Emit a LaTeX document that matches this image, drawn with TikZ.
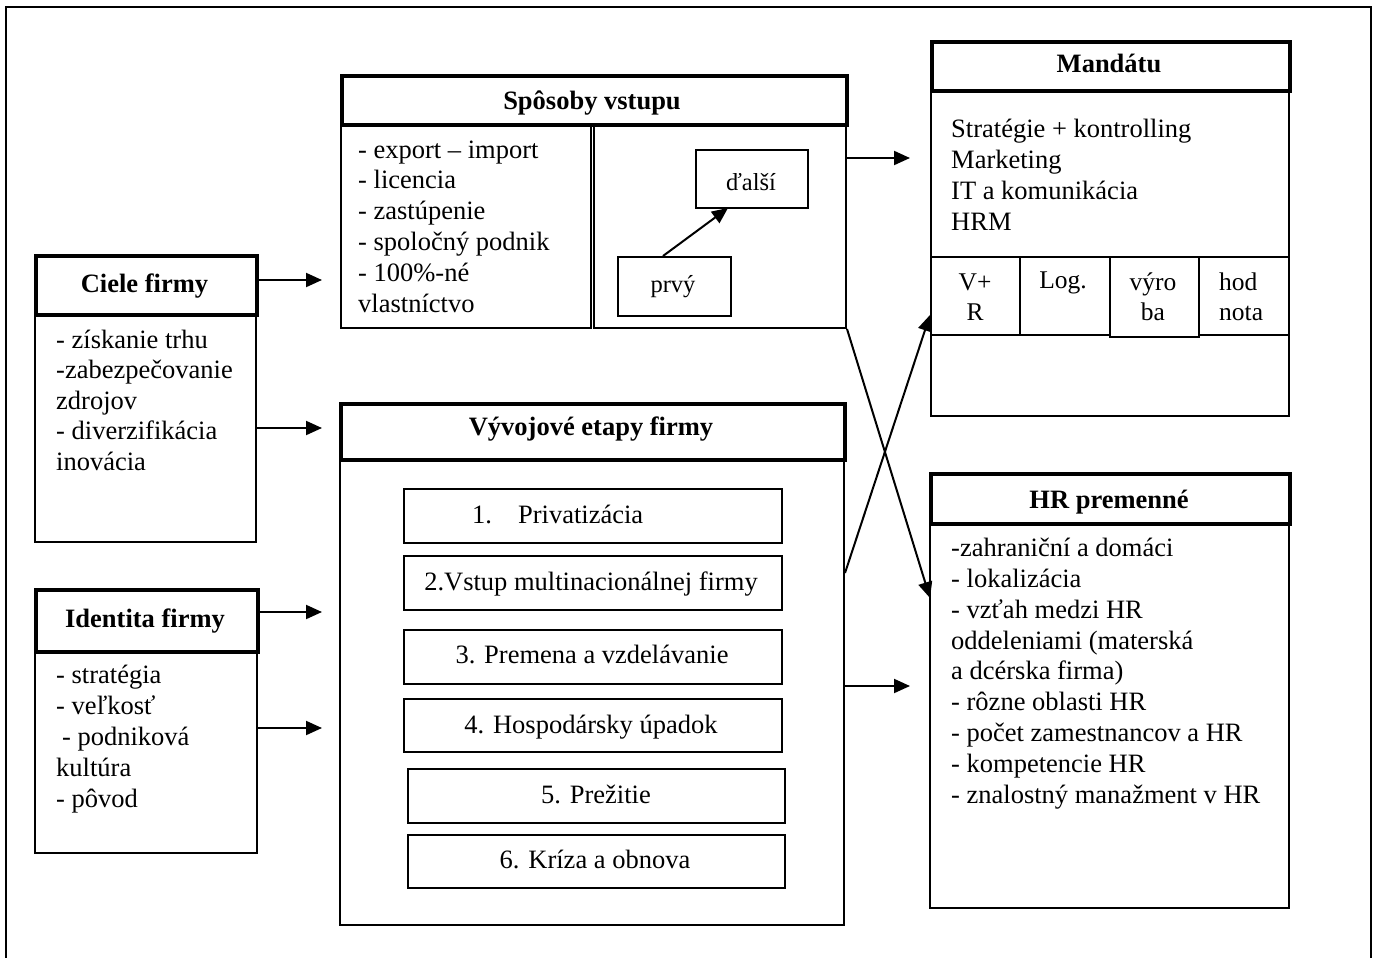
\documentclass[tikz,border=0pt]{standalone}
\usepackage{fontspec}
\setmainfont{Liberation Serif}
\usetikzlibrary{arrows.meta}
\begin{document}
\begin{tikzpicture}[x=1pt,y=-1pt,
  every node/.style={font=\fontsize{26.5pt}{30.8pt}\selectfont},
  rect/.style={draw, line width=2pt, inner sep=0pt, anchor=north west},
  trect/.style={draw, line width=3.8pt, inner sep=0pt, anchor=north west},
  txt/.style={anchor=base west, align=left, inner sep=0pt},
  ttl/.style={anchor=base, inner sep=0pt, font=\fontsize{26.5pt}{30.8pt}\selectfont\bfseries},
  ctxt/.style={anchor=base, align=center, inner sep=0pt},
  cell/.style={anchor=base, align=center, inner sep=0pt, font=\fontsize{25.5pt}{30pt}\selectfont},
  arr/.style={line width=2pt, -{Triangle[length=16pt,width=14pt]}}
]
\useasboundingbox (0,0) rectangle (1376,958);
% outer frame
\coordinate (fbl) at (6,958);
\coordinate (ftl) at (6,7);
\coordinate (ftr) at (1371,7);
\coordinate (fbr) at (1371,958);
\draw[line width=2.6pt] (fbl) -- (ftl) -- (ftr) -- (fbr);

% ---------- Spôsoby vstupu ----------
\node[rect, minimum width=250pt, minimum height=204pt] (spL) at (340,123) {};
\node[rect, minimum width=252pt, minimum height=204pt] (spR) at (593,123) {};
\node[trect, minimum width=505pt, minimum height=49pt] (spT) at (340,74) {};
\node[ttl] (spTt) at (592,110) {Spôsoby vstupu};
% multi-line nodes: base = baseline of the last line
\node[txt] (spLt) at (358,312) {- export – import\\- licencia\\- zastúpenie\\- spoločný podnik\\- 100\%-né\\vlastníctvo};
\node[rect, minimum width=112pt, minimum height=58pt] (dal) at (695,149) {};
\node[rect, minimum width=113pt, minimum height=59pt] (prv) at (617,256) {};
\node[cell, font=\fontsize{24.5pt}{29pt}\selectfont] (dalt) at (751,190) {ďalší};
\node[cell, font=\fontsize{24.5pt}{29pt}\selectfont] (prvt) at (673,292) {prvý};
\coordinate (prvTop) at (663,256);
\coordinate (dalBot) at (728,208);
\draw[arr] (prv.north -| prvTop) -- (dalBot);

% ---------- Mandátu ----------
\node[rect, minimum width=358pt, minimum height=326pt] (mB) at (930,89) {};
\node[rect, minimum width=89pt, minimum height=78pt] (mc1) at (930,256) {};
\node[rect, minimum width=90pt, minimum height=78pt] (mc2) at (1019,256) {};
\node[rect, minimum width=89pt, minimum height=80pt] (mc3) at (1109,256) {};
\node[rect, minimum width=90pt, minimum height=78pt] (mc4) at (1198,256) {};
\node[trect, minimum width=358pt, minimum height=49pt] (mT) at (930,40) {};
\node[ttl] (mTt) at (1109,73) {Mandátu};
\node[txt] (mBt) at (951,230) {Stratégie + kontrolling\\Marketing\\IT a komunikácia\\HRM};
\node[cell] (mc1t) at (975,320) {V+\\R};
\node[cell] (mc2t) at (1063,288) {Log.};
\node[cell] (mc3t) at (1153,320) {výro\\ba};
\node[cell, anchor=base west, align=left] (mc4t) at (1219,320) {hod\\nota};

% ---------- Ciele firmy ----------
\node[rect, minimum width=221pt, minimum height=228pt] (cB) at (34,313) {};
\node[trect, minimum width=221pt, minimum height=59pt] (cT) at (34,254) {};
\node[ttl] (cTt) at (144.5,292) {Ciele firmy};
\node[txt, font=\fontsize{26.5pt}{30.5pt}\selectfont] (cBt) at (56,470) {- získanie trhu\\-zabezpečovanie\\zdrojov\\- diverzifikácia\\inovácia};

% ---------- Identita firmy ----------
\node[rect, minimum width=222pt, minimum height=202pt] (iB) at (34,650) {};
\node[trect, minimum width=222pt, minimum height=62pt] (iT) at (34,588) {};
\node[ttl] (iTt) at (145,627) {Identita firmy};
\node[txt, font=\fontsize{26.5pt}{31pt}\selectfont] (iBt) at (56,807) {- stratégia\\- veľkosť\\\hspace*{6pt}- podniková\\kultúra\\- pôvod};

% ---------- Vývojové etapy firmy ----------
\node[rect, minimum width=504pt, minimum height=466pt] (vB) at (339,458) {};
\node[trect, minimum width=504pt, minimum height=56pt] (vT) at (339,402) {};
\node[ttl] (vTt) at (591,435) {Vývojové etapy firmy};
\node[rect, minimum width=378pt, minimum height=54pt] (s1) at (403,488) {};
\node[rect, minimum width=378pt, minimum height=54pt] (s2) at (403,555) {};
\node[rect, minimum width=378pt, minimum height=54pt] (s3) at (403,629) {};
\node[rect, minimum width=378pt, minimum height=53pt] (s4) at (403,698) {};
\node[rect, minimum width=377pt, minimum height=54pt] (s5) at (407,768) {};
\node[rect, minimum width=377pt, minimum height=53pt] (s6) at (407,834) {};
\node[txt] (s1t) at (472,523) {1.\hspace{26pt}Privatizácia};
\node[ctxt] (s2t) at (591,590) {2.Vstup multinacionálnej firmy};
\node[ctxt] (s3t) at (592,663) {3. Premena a vzdelávanie};
\node[ctxt] (s4t) at (591,733) {4. Hospodársky úpadok};
\node[ctxt] (s5t) at (596,803) {5. Prežitie};
\node[ctxt] (s6t) at (595,868) {6. Kríza a obnova};

% ---------- HR premenné ----------
\node[rect, minimum width=359pt, minimum height=385pt] (hB) at (929,522) {};
\node[trect, minimum width=359pt, minimum height=50pt] (hT) at (929,472) {};
\node[ttl] (hTt) at (1109,508) {HR premenné};
\node[txt] (hBt) at (951,803) {-zahraniční a domáci\\- lokalizácia\\- vzťah medzi HR\\oddeleniami (materská\\a dcérska firma)\\- rôzne oblasti HR\\- počet zamestnancov a HR\\- kompetencie HR\\- znalostný manažment v HR};

% ---------- connectors ----------
\coordinate (a1) at (322,280);
\coordinate (a2) at (322,428);
\coordinate (a3) at (322,612);
\coordinate (a4) at (322,728);
\draw[arr] (cT.east |- a1) -- (a1);
\draw[arr] (cB.east |- a2) -- (a2);
\draw[arr] (iT.east |- a3) -- (a3);
\draw[arr] (iB.east |- a4) -- (a4);

\coordinate (m1) at (910,158);
\draw[arr] (spR.east |- m1) -- (m1);
\coordinate (h1) at (930,598);
\draw[arr] (spR.south east) -- (h1);
\coordinate (v1) at (843,573);
\coordinate (m2) at (930,315);
\draw[arr] (vB.east |- v1) -- (m2);
\coordinate (h2) at (910,686);
\draw[arr] (vB.east |- h2) -- (h2);
\end{tikzpicture}
\end{document}
